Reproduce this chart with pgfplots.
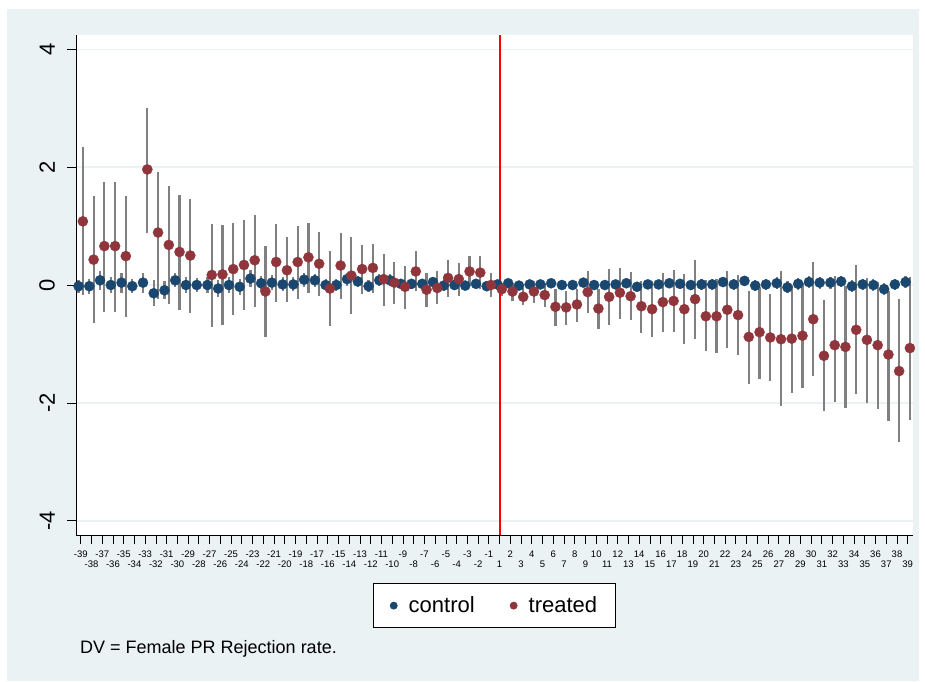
\documentclass[border=0pt]{standalone}
\usepackage{pgfplots}
\pgfplotsset{compat=1.18}
\usepackage{pgfplotstable}
\usetikzlibrary{backgrounds}
\usepackage{fontspec}
\setmainfont{Liberation Sans}
\definecolor{stnavy}{RGB}{26,71,111}
\definecolor{stmaroon}{RGB}{144,53,59}
\definecolor{stbg}{RGB}{234,242,243}
\definecolor{stci}{RGB}{128,128,128}

\pgfplotstableread{
i c h
0 -0.02 0.11
1 -0.02 0.13
2 0.08 0.16
3 0.00 0.14
4 0.04 0.17
5 -0.02 0.12
6 0.04 0.17
7 -0.14 0.22
8 -0.09 0.15
9 0.08 0.12
10 0.00 0.14
11 0.00 0.12
12 0.00 0.14
13 -0.06 0.15
14 0.00 0.13
15 -0.03 0.14
16 0.11 0.14
17 0.03 0.13
18 0.04 0.13
19 0.01 0.12
20 0.01 0.12
21 0.09 0.12
22 0.08 0.11
23 0.00 0.11
24 0.00 0.11
25 0.10 0.11
26 0.06 0.10
27 -0.02 0.10
28 0.08 0.10
29 0.08 0.10
30 0.02 0.09
31 0.02 0.09
32 0.02 0.09
33 0.05 0.09
34 -0.01 0.09
35 0.00 0.08
36 -0.01 0.08
37 0.02 0.08
38 -0.02 0.08
39 0.01 0.07
40 0.03 0.07
41 -0.01 0.07
42 0.01 0.07
43 0.01 0.07
44 0.03 0.07
45 0.00 0.07
46 0.00 0.07
47 0.04 0.08
48 0.00 0.08
49 0.00 0.08
50 0.01 0.08
51 0.03 0.08
52 -0.03 0.08
53 0.01 0.08
54 0.01 0.08
55 0.03 0.08
56 0.02 0.08
57 0.00 0.09
58 0.01 0.09
59 0.01 0.09
60 0.05 0.09
61 0.01 0.09
62 0.07 0.09
63 -0.01 0.09
64 0.01 0.09
65 0.03 0.10
66 -0.04 0.10
67 0.02 0.10
68 0.05 0.10
69 0.04 0.10
70 0.04 0.10
71 0.06 0.10
72 -0.02 0.10
73 0.01 0.10
74 0.00 0.10
75 -0.07 0.10
76 0.01 0.10
77 0.05 0.10
}\ctrl

\pgfplotstableread{
i t lo hi
0 1.08 -0.17 2.34
1 0.43 -0.64 1.51
2 0.66 -0.45 1.75
3 0.66 -0.45 1.75
4 0.49 -0.54 1.51
6 1.96 0.89 3.01
7 0.89 -0.24 1.92
8 0.68 -0.32 1.68
9 0.56 -0.43 1.53
10 0.50 -0.47 1.46
12 0.17 -0.72 1.04
13 0.18 -0.68 1.02
14 0.27 -0.51 1.05
15 0.34 -0.43 1.10
16 0.42 -0.38 1.19
17 -0.11 -0.88 0.66
18 0.39 -0.28 1.04
19 0.25 -0.29 0.81
20 0.39 -0.23 1.00
21 0.47 -0.13 1.06
22 0.36 -0.19 0.90
23 -0.06 -0.69 0.58
24 0.33 -0.23 0.89
25 0.16 -0.49 0.81
26 0.27 -0.15 0.68
27 0.29 -0.13 0.69
28 0.10 -0.35 0.53
29 0.04 -0.32 0.39
30 -0.03 -0.40 0.32
31 0.23 -0.11 0.58
32 -0.08 -0.37 0.20
33 -0.05 -0.32 0.23
34 0.12 -0.20 0.42
35 0.10 -0.19 0.38
36 0.23 -0.02 0.50
37 0.21 -0.06 0.49
38 0.00 -0.20 0.21
39 -0.07 -0.18 0.04
40 -0.11 -0.27 0.03
41 -0.20 -0.34 -0.05
42 -0.11 -0.31 0.07
43 -0.17 -0.38 0.04
44 -0.37 -0.69 -0.06
45 -0.38 -0.68 -0.10
46 -0.33 -0.62 -0.06
47 -0.12 -0.47 0.24
48 -0.40 -0.75 -0.06
49 -0.20 -0.67 0.27
50 -0.13 -0.57 0.28
51 -0.19 -0.59 0.22
52 -0.36 -0.81 0.07
53 -0.41 -0.88 0.07
54 -0.29 -0.80 0.21
55 -0.27 -0.80 0.25
56 -0.41 -1.00 0.19
57 -0.24 -0.91 0.42
58 -0.53 -1.12 0.08
59 -0.53 -1.16 0.10
60 -0.42 -1.06 0.23
61 -0.51 -1.19 0.17
62 -0.88 -1.68 -0.11
63 -0.80 -1.59 -0.03
64 -0.89 -1.63 -0.16
65 -0.92 -2.05 0.24
66 -0.91 -1.83 0.00
67 -0.86 -1.75 0.03
68 -0.58 -1.55 0.39
69 -1.20 -2.14 -0.26
70 -1.02 -1.99 0.16
71 -1.05 -2.09 -0.02
72 -0.76 -1.85 0.34
73 -0.93 -2.00 0.12
74 -1.02 -2.11 0.05
75 -1.18 -2.30 -0.10
76 -1.46 -2.67 -0.24
77 -1.07 -2.29 0.14
}\treat

\begin{document}
\begin{tikzpicture}
\begin{axis}[
  scale only axis, width=837pt, height=500pt,
  xmin=-0.44, xmax=77.49, ymin=-4.24, ymax=4.24,
  axis x line*=bottom, axis y line*=left,
  axis line style={black, line width=0.8pt, -},
  axis background/.style={fill=white},
  tick align=outside, major tick length=9pt,
  tick style={black, line width=0.8pt},
  ytick={-4,-2,0,2,4},
  yticklabels={-4,-2,0,2,4},
  ymajorgrids, grid style={stbg, line width=1.3pt},
  yticklabel style={rotate=90, anchor=south, font=\fontsize{22}{26}\selectfont, inner sep=0pt, yshift=12pt},
  xtick={0,2,...,76},
  xticklabels={-39,-37,-35,-33,-31,-29,-27,-25,-23,-21,-19,-17,-15,-13,-11,-9,-7,-5,-3,-1,2,4,6,8,10,12,14,16,18,20,22,24,26,28,30,32,34,36,38},
  extra x ticks={1,3,...,77},
  extra x tick labels={-38,-36,-34,-32,-30,-28,-26,-24,-22,-20,-18,-16,-14,-12,-10,-8,-6,-4,-2,1,3,5,7,9,11,13,15,17,19,21,23,25,27,29,31,33,35,37,39},
  extra x tick style={grid=none, tick label style={yshift=-10pt}},
  xticklabel style={font=\fontsize{9.5}{11}\selectfont, inner sep=1pt, yshift=-6pt},
  legend style={at={(0.5,-0.096)}, anchor=north, legend columns=2, draw=black, line width=0.8pt, fill=white,
    font=\fontsize{22}{26}\selectfont, inner xsep=16pt, inner ysep=11.5pt,
    /tikz/every even column/.append style={column sep=33pt}},
  clip=false,
]
\coordinate (BL) at (rel axis cs:0,0);
\addlegendimage{legend image code/.code={\path[draw=none,fill=none] (-1pt,-1pt) rectangle (13pt,1pt); \fill[stnavy] (0,0) circle (3.5pt);}}
\addlegendentry{control}
\addlegendimage{legend image code/.code={\path[draw=none,fill=none] (-1pt,-1pt) rectangle (13pt,1pt); \fill[stmaroon] (0,0) circle (3.5pt);}}
\addlegendentry{treated}

\addplot[forget plot, red, line width=2pt] coordinates {(39,-4.24) (39,4.24)};

\addplot[forget plot, draw=none, mark=none,
  error bars/.cd, y dir=both, y explicit, error mark=none,
  error bar style={draw=stci, line width=2.2pt}]
  table[x expr=\thisrow{i}-0.2, y=c, y error=h] {\ctrl};
\addplot[forget plot, only marks, mark=*, mark size=5.1pt,
  mark options={draw=stnavy, fill=stnavy, line width=0.3pt}]
  table[x expr=\thisrow{i}-0.2, y=c] {\ctrl};

\addplot[forget plot, draw=none, mark=none,
  error bars/.cd, y dir=both, y explicit, error mark=none,
  error bar style={draw=stci, line width=2.2pt}]
  table[x expr=\thisrow{i}+0.2, y=t,
        y error plus expr=\thisrow{hi}-\thisrow{t},
        y error minus expr=\thisrow{t}-\thisrow{lo}] {\treat};
\addplot[forget plot, only marks, mark=*, mark size=5.1pt,
  mark options={draw=stmaroon, fill=stmaroon, line width=0.3pt}]
  table[x expr=\thisrow{i}+0.2, y=t] {\treat};
\end{axis}
\begin{scope}[shift={(BL)}, x=1pt, y=1pt]
\useasboundingbox (-76,-146) rectangle ++(925,681);
\begin{scope}[on background layer]
\fill[white] (-76,-146) rectangle ++(925,681);
\fill[stbg] (-69,-146) rectangle ++(912,672);
\end{scope}
\node[anchor=base west, font=\fontsize{18}{22}\selectfont, inner sep=0pt] at (4,-118) {DV = Female PR Rejection rate.};
\end{scope}
\end{tikzpicture}
\end{document}
